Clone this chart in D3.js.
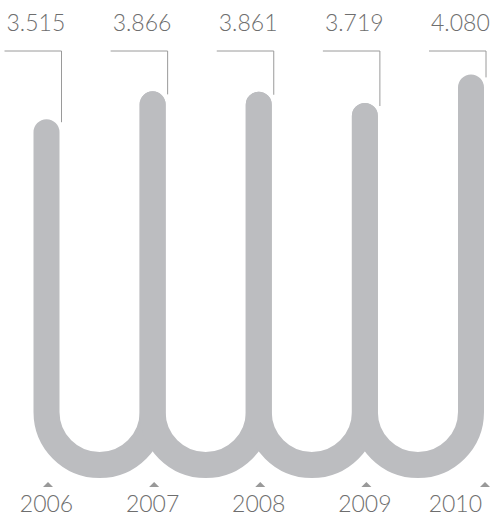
<!DOCTYPE html>
<html><head><meta charset="utf-8">
<script src="https://cdn.jsdelivr.net/npm/d3@7"></script>
<style>
html,body{margin:0;padding:0;background:#fff;}
svg text{font-family:Lato,"Open Sans",sans-serif;font-weight:300;fill:#6e6e6e;}
</style></head>
<body>
<svg id="chart" width="490" height="519"></svg>
<script>
const years = ["2006","2007","2008","2009","2010"];
const values = [3.515, 3.866, 3.861, 3.719, 4.080];
const valueLabels = ["3.515","3.866","3.861","3.719","4.080"];

const W = 490, H = 519;
const svg = d3.select("#chart");
const x = d3.scalePoint().domain(years).range([46.5, 471]);
const y = d3.scaleLinear().domain([3.5, 4.1]).range([133.4, 85.8]);
const baseY = 465;
const r = x.step() / 2;
const sw = 26;
const barColor = "#bcbdc0";

// U shapes
const pairs = d3.pairs(years.map((yr, i) => ({yr, v: values[i]})));
svg.append("g").selectAll("path").data(pairs).join("path")
  .attr("d", ([a, b]) => {
    const p = d3.path();
    const xa = x(a.yr), xb = x(b.yr);
    p.moveTo(xa, y(a.v));
    p.lineTo(xa, baseY - r);
    p.arc((xa + xb) / 2, baseY - r, r, Math.PI, 0, true);
    p.lineTo(xb, y(b.v));
    return p.toString();
  })
  .attr("fill", "none")
  .attr("stroke", barColor)
  .attr("stroke-width", sw)
  .attr("stroke-linecap", "round");

// leaders + value labels
const lineY = 51;
const g = svg.append("g").selectAll("g").data(years).join("g");
g.append("path")
  .attr("d", (d, i) => {
    const cx = x(d);
    return `M${cx - 42},${lineY}H${cx + 15}V${y(values[i]) - sw / 2 + 3}`;
  })
  .attr("fill", "none").attr("stroke", "#9a9a9a").attr("stroke-width", 1);
g.append("text")
  .attr("x", d => x(d) - 40)
  .attr("y", 31)
  .attr("font-size", 23)
  .text((d, i) => valueLabels[i]);

// year axis
const last = years[years.length - 1];
const tg = svg.append("g").selectAll("g").data(years).join("g");
tg.append("path")
  .attr("d", d => {
    const cx = d === last ? W - 5 : x(d) + 1.5;
    return `M${cx - 5},487L${cx},482L${cx + 5},487Z`;
  })
  .attr("fill", "#999");
tg.append("text")
  .attr("x", d => d === last ? W - 8 : x(d))
  .attr("y", 512)
  .attr("text-anchor", d => d === last ? "end" : "middle")
  .attr("font-size", 23)
  .text(d => d);
</script>
</body></html>
